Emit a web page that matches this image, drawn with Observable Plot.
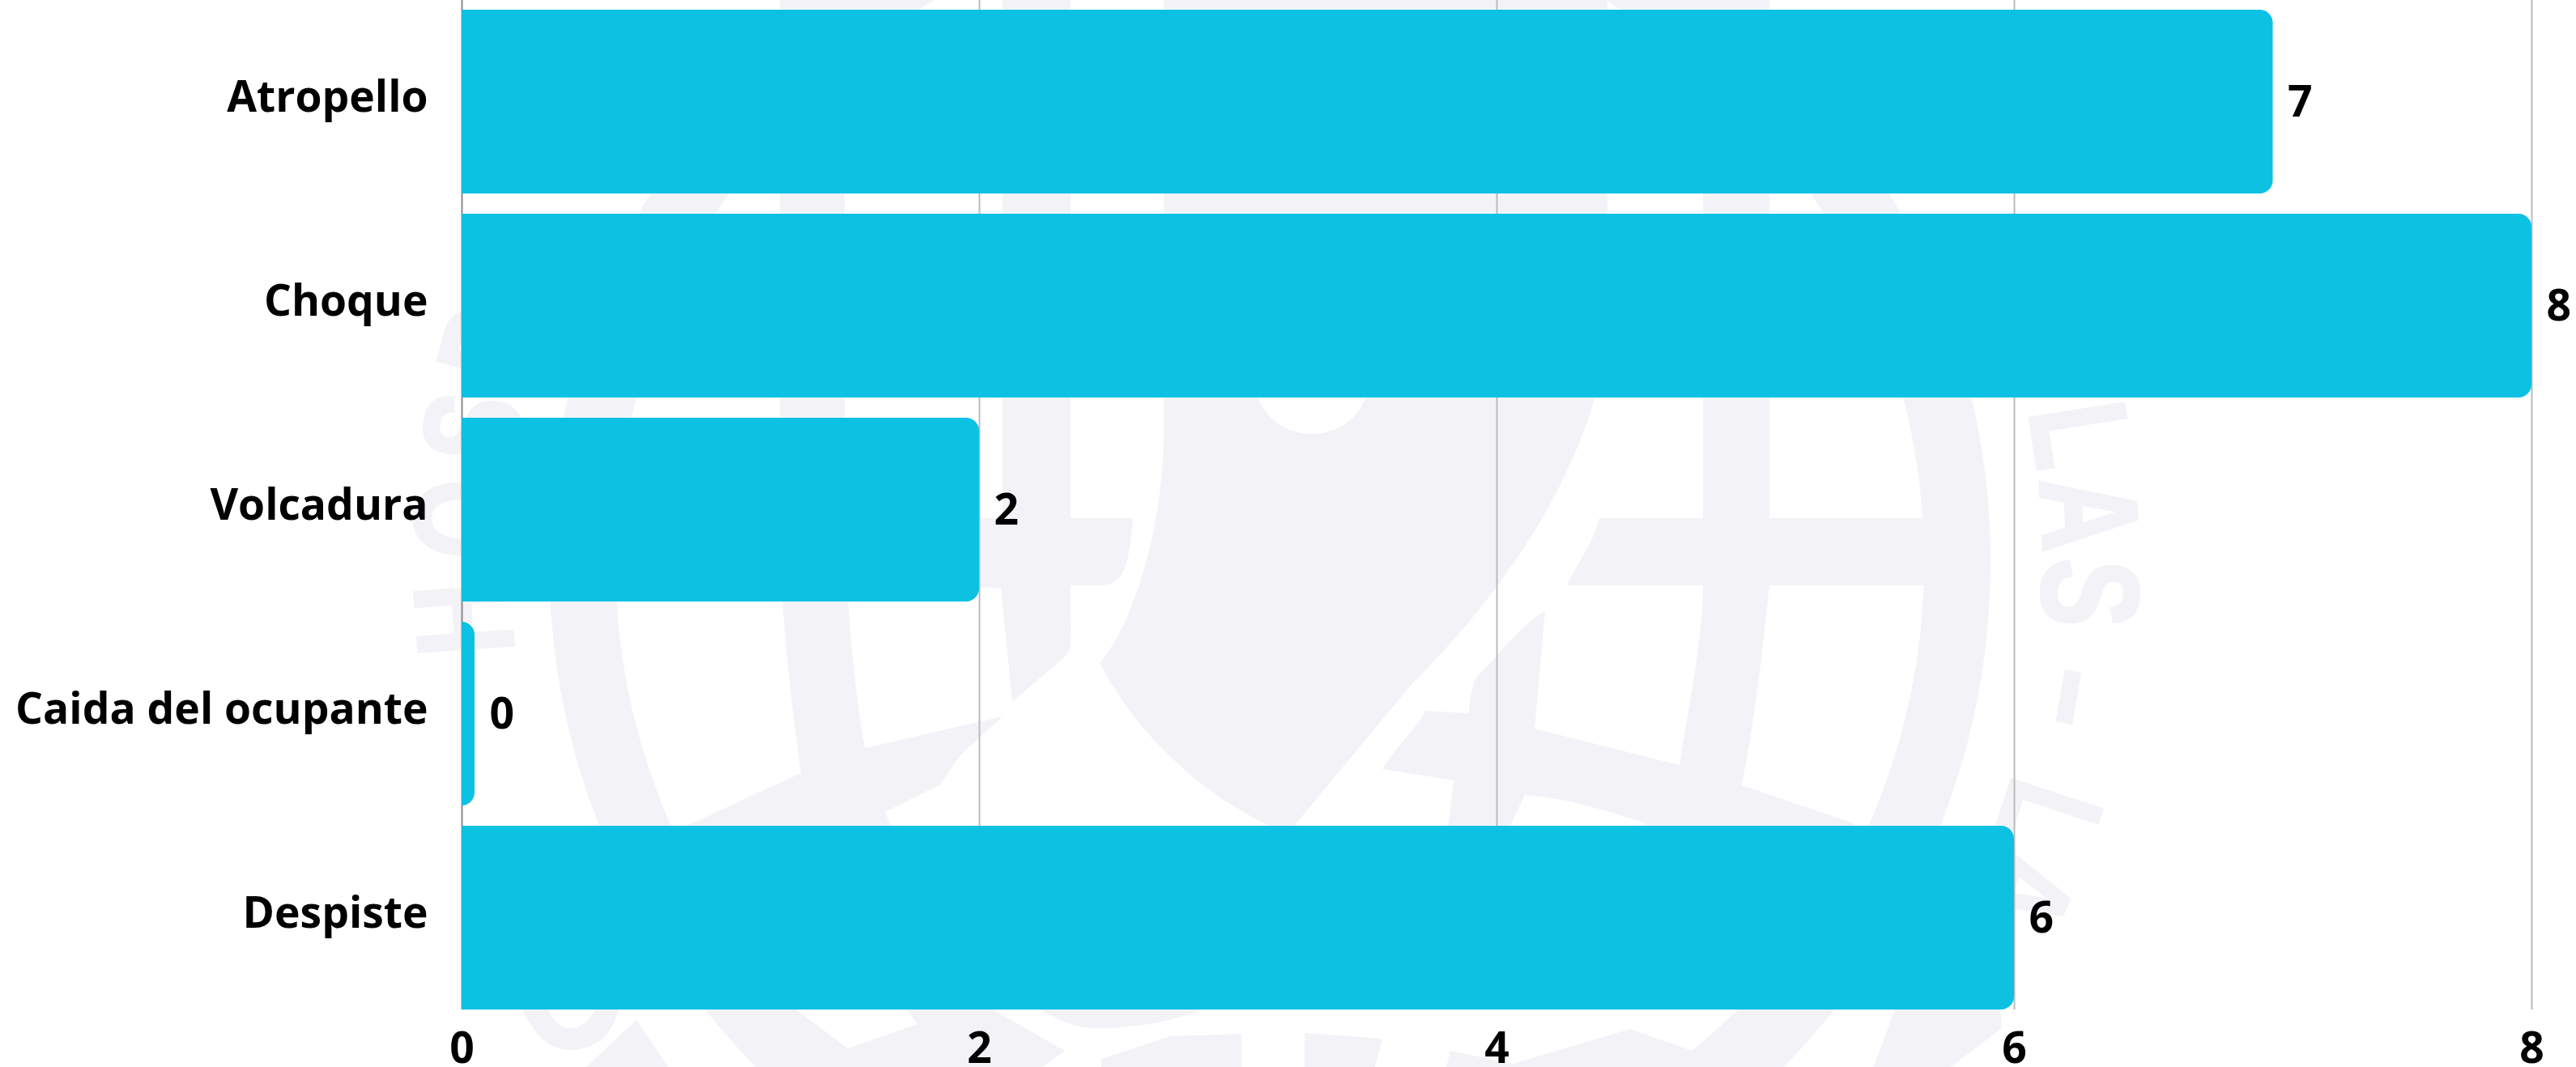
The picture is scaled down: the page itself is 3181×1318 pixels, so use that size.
<!DOCTYPE html>
<html lang="es">
<head>
<meta charset="utf-8">
<script src="https://cdn.jsdelivr.net/npm/d3@7"></script>
<script src="https://cdn.jsdelivr.net/npm/@observablehq/plot@0.6"></script>
<style>
  html, body { margin: 0; padding: 0; background: #fff; }
  #wrap { position: relative; width: 3181px; height: 1318px; overflow: hidden; }
  #wrap svg { position: absolute; left: 0; top: 0; }
</style>
</head>
<body>
<div id="wrap"></div>
<script>
// ---- chart data ----
const categories = ["Atropello", "Choque", "Volcadura", "Caida del ocupante", "Despiste"];
const values = [7, 8, 2, 0, 6];
const xTicks = [0, 2, 4, 6, 8];
const minVisibleValue = 0.05; // a zero bar is still drawn as a thin sliver

// ---- chart styles ----
const FONT = "'Open Sans', sans-serif";
const BAR = "#0DC1E2";

// ---- faint seal behind the chart ----
const sealLetters = [
  ["H", 176], ["O", 183], ["S", 189.4], ["P", 195.3],
  ["L", 351], ["A", 356.6], ["S", 2.2], ["–", 9.7], ["L", 18.3], ["A", 23.6]
];
const sealShapes = [
  "M1437,-10 L1437,533 C1437,650 1400,770 1358,819 C1400,900 1480,985 1590,1030 L1745,843 C1830,760 1960,600 1985,420 L1985,-10 Z",
  "M1238,-10 L1322,-10 L1322,640 L1399,640 C1395,690 1390,723 1360,723 L1322,723 C1322,790 1325,800 1315,811 L1250,867 L1236,726 L1000,723 L1000,640 L1238,640 Z",
  "M760,640 L1010,640 L1010,723 L760,723 Z",
  "M963,-10 L1043,-10 L1043,640 C1045,750 1055,850 1068,924 L1238,885 L1185,934 L1161,969 L1093,1003 L1100,1020 L848,1020 L989,955 C975,850 963,750 963,640 Z",
  "M2103,-10 L2185,-10 L2185,723 C2175,820 2165,900 2151,970 L2289,1017 L2289,1030 L2032,1030 L2032,1017 C1980,1000 1930,985 1883,982 L1860,1030 L1787,1030 L1795,964 L1707,950 C1725,920 1750,900 1760,878 L1814,881 C1815,860 1818,850 1822,838 C1850,810 1880,770 1908,755 L1895,900 L2074,945 C2085,870 2103,790 2103,723 Z",
  "M2150,640 L2376,640 L2376,723 L2150,723 Z",
  "M1975,640 L2110,640 L2110,723 L1935,723 C1950,690 1968,670 1975,640 Z",
  // beneath the bars
  "M881,1247 L945,1325 L1277,1325 L1315,1298 L1226,1247 L1120,1247 L1133,1265 L1047,1295 L983,1247 Z",
  "M1284,1247 C1310,1262 1330,1270 1353,1270 C1400,1270 1450,1262 1483,1247 Z",
  "M786,1260 L716,1325 L830,1325 Z",
  "M645,1247 C660,1280 680,1297 703,1297 C735,1297 755,1280 764,1247 L735,1247 C725,1265 715,1270 705,1270 C695,1270 685,1265 677,1247 Z",
  "M1445,1280 L1533,1277 L1533,1325 L1360,1325 L1360,1308 Z",
  "M1611,1276 L1707,1283 L1696,1325 L1611,1325 Z",
  "M1791,1298 L1868,1314 L2013,1271 L2090,1298 L2147,1247 L2254,1247 L2189,1325 L1784,1325 Z",
  "M2340,1247 L2470,1247 L2472,1270 L2400,1325 L2311,1325 Z"
];

function drawSeal() {
  const ns = "http://www.w3.org/2000/svg";
  const svg = document.createElementNS(ns, "svg");
  svg.setAttribute("width", 3181);
  svg.setAttribute("height", 1318);
  const fill = "#F3F3F7";
  for (const d of sealShapes) {
    const p = document.createElementNS(ns, "path");
    p.setAttribute("d", d);
    p.setAttribute("fill", fill);
    svg.appendChild(p);
  }
  const ring = document.createElementNS(ns, "circle");
  ring.setAttribute("cx", 1568); ring.setAttribute("cy", 694); ring.setAttribute("r", 849);
  ring.setAttribute("fill", "none"); ring.setAttribute("stroke", fill); ring.setAttribute("stroke-width", 82);
  svg.appendChild(ring);
  const hole = document.createElementNS(ns, "ellipse");
  hole.setAttribute("cx", 1620); hole.setAttribute("cy", 470);
  hole.setAttribute("rx", 70); hole.setAttribute("ry", 66); hole.setAttribute("fill", "#fff");
  svg.appendChild(hole);
  for (const [ch, angle] of sealLetters) {
    const t = document.createElementNS(ns, "text");
    t.textContent = ch;
    t.setAttribute("transform", `translate(1576,694) rotate(${angle + 90}) translate(0,-947) scale(0.74,1)`);
    t.setAttribute("text-anchor", "middle");
    t.setAttribute("font-family", "'Liberation Sans', sans-serif");
    t.setAttribute("font-weight", 700);
    t.setAttribute("font-size", 170);
    t.setAttribute("fill", fill);
    t.setAttribute("stroke", fill);
    t.setAttribute("stroke-width", 4);
    svg.appendChild(t);
  }
  return svg;
}

const data = categories.map((c, i) => ({category: c, value: values[i]}));
const barEnd = d => Math.max(d.value, minVisibleValue);

const chart = Plot.plot({
  width: 3181,
  height: 1318,
  marginLeft: 570,
  marginRight: 55,
  marginTop: 0,
  marginBottom: 71,
  style: {background: "transparent", fontFamily: FONT},
  x: {domain: [0, 8], ticks: xTicks, label: null},
  y: {domain: categories, range: [-14, 1272], padding: 0.1, label: null},
  marks: [
    Plot.ruleX(xTicks.filter(d => d > 0), {stroke: "#BBBBBB", strokeWidth: 2}),
    Plot.ruleX([0], {stroke: "#8A8A8A", strokeWidth: 2}),
    Plot.barX(data, {x1: 0, x2: barEnd, y: "category", fill: BAR, rx2: 16}),
    Plot.text(data, {
      x: barEnd,
      y: "category",
      text: d => String(d.value),
      textAnchor: "start",
      dx: 18,
      dy: 1,
      fontFamily: FONT,
      fontWeight: 700,
      fontSize: 53.4,
      fill: "#000"
    }),
    Plot.axisX({
      ticks: xTicks, tickSize: 0, tickPadding: 28, label: null,
      fontFamily: FONT, fontWeight: 700, fontSize: 53.4, fill: "#000"
    }),
    Plot.axisY({
      tickSize: 0, tickPadding: 42, label: null, dy: -5,
      fontFamily: FONT, fontWeight: 700, fontSize: 53.4, fill: "#000"
    })
  ]
});

const wrap = document.getElementById("wrap");
wrap.appendChild(drawSeal());
wrap.appendChild(chart);
</script>
</body>
</html>
